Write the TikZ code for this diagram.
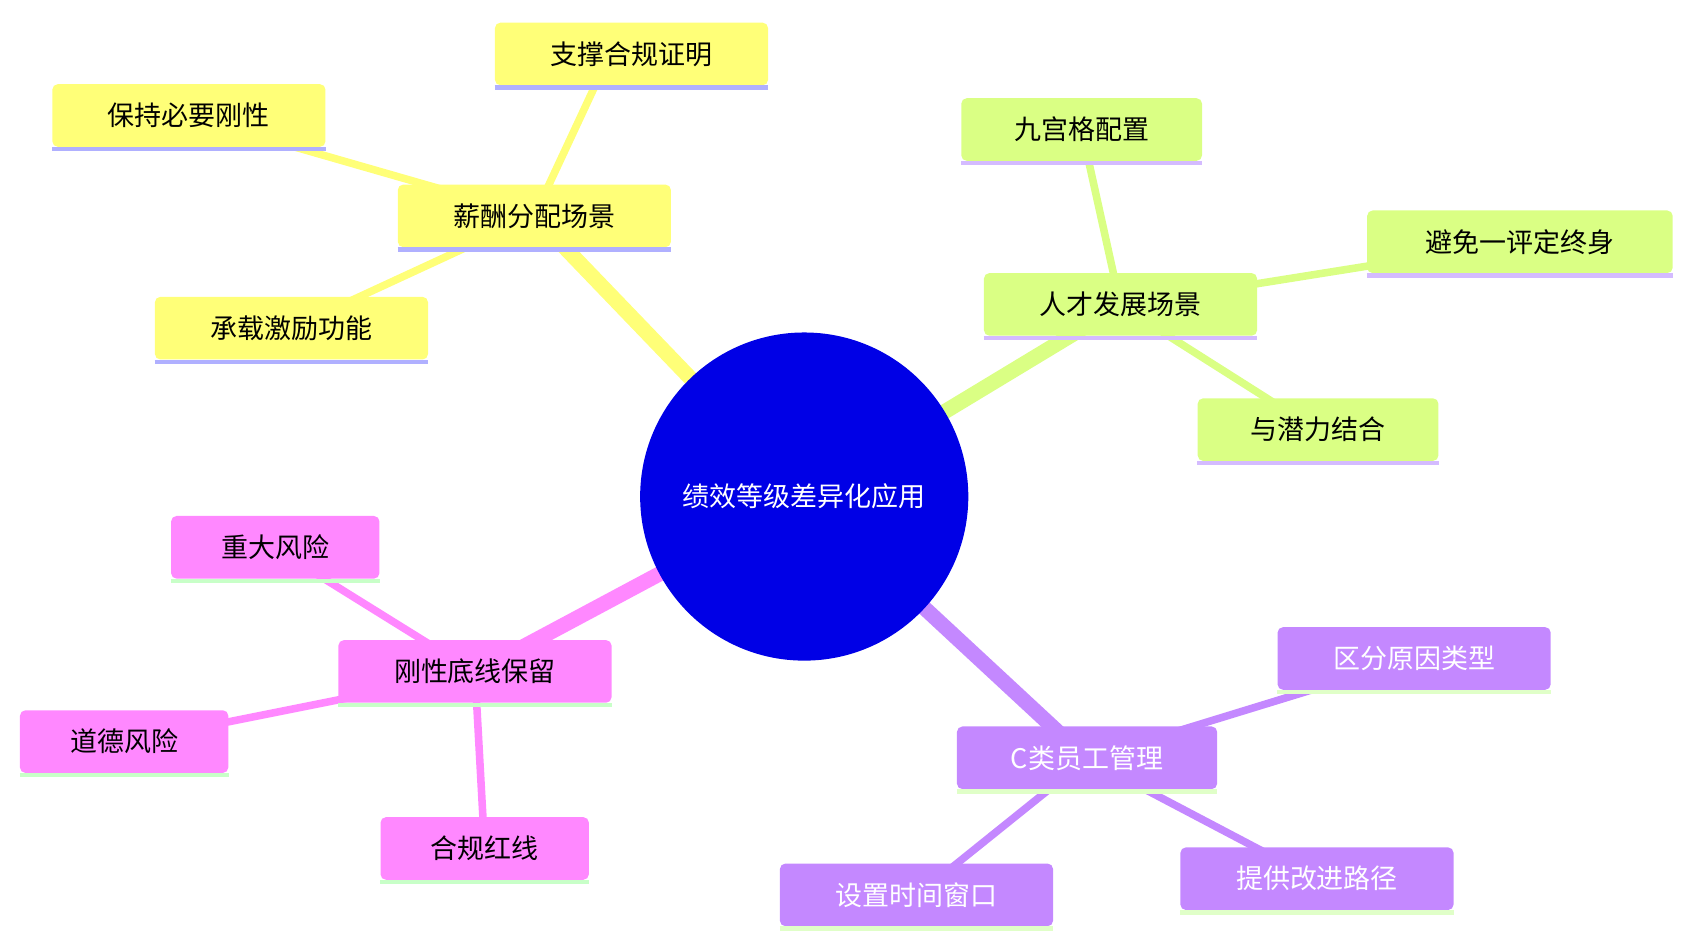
\documentclass[tikz,border=0pt]{standalone}
\usepackage{fontspec}
\setmainfont{Noto Sans CJK SC}
\definecolor{yel}{RGB}{255,255,120}
\definecolor{yelu}{RGB}{176,176,255}
\definecolor{grn}{RGB}{218,255,132}
\definecolor{grnu}{RGB}{212,187,255}
\definecolor{pnk}{RGB}{255,136,255}
\definecolor{pnku}{RGB}{200,255,200}
\definecolor{pur}{RGB}{196,136,255}
\definecolor{puru}{RGB}{224,255,200}
\definecolor{rootc}{RGB}{0,0,230}
\newcommand{\bx}[8]{%
 \node[box,fill=#6,text=#8,minimum width=#4pt] (#1) at ({#2},{874-#3}) {#5};
 \draw[#7,line width=4pt] ([yshift=-2pt]#1.south west) -- ([yshift=-2pt]#1.south east);}
\begin{document}
\begin{tikzpicture}[x=1pt,y=1pt,
 box/.style={rounded corners=5pt,minimum height=58pt,inner sep=0pt,font=\fontsize{25}{28}\selectfont},
 mainl/.style={line width=14pt},
 subl/.style={line width=7pt}]
\useasboundingbox (0,0) rectangle (1560,874);
\coordinate (R) at (745,414);
\coordinate (Ya) at (495,674); \coordinate (Ga) at (1038,591);
\coordinate (Pa) at (440,251); \coordinate (Ua) at (1007,171);
\draw[yel,mainl] (R) -- (Ya);
\draw[grn,mainl] (R) -- (Ga);
\draw[pnk,mainl] (R) -- (Pa);
\draw[pur,mainl] (R) -- (Ua);
\draw[yel,subl] (Ya) -- (565,824);
\draw[yel,subl] (Ya) -- (175,766);
\draw[yel,subl] (Ya) -- (270,570);
\draw[grn,subl] (Ga) -- (1002,754);
\draw[grn,subl] (Ga) -- (1408,650);
\draw[grn,subl] (Ga) -- (1221,475);
\draw[pnk,subl] (Pa) -- (255,366);
\draw[pnk,subl] (Pa) -- (115,186);
\draw[pnk,subl] (Pa) -- (449,87);
\draw[pur,subl] (Ua) -- (1310,264);
\draw[pur,subl] (Ua) -- (1220,59);
\draw[pur,subl] (Ua) -- (849,44);
\node[circle,fill=rootc,minimum size=304pt,inner sep=0pt,text=white,font=\fontsize{25}{28}\selectfont] (root) at (745,414) {绩效等级差异化应用};
\bx{y0}{495}{200}{253}{薪酬分配场景}{yel}{yelu}{black}
\bx{y1}{585}{50}{253}{支撑合规证明}{yel}{yelu}{black}
\bx{y2}{175}{107}{253}{保持必要刚性}{yel}{yelu}{black}
\bx{y3}{270}{304}{253}{承载激励功能}{yel}{yelu}{black}
\bx{g0}{1038}{282}{253}{人才发展场景}{grn}{grnu}{black}
\bx{g1}{1002}{120}{223}{九宫格配置}{grn}{grnu}{black}
\bx{g2}{1408}{224}{283}{避免一评定终身}{grn}{grnu}{black}
\bx{g3}{1221}{398}{223}{与潜力结合}{grn}{grnu}{black}
\bx{p0}{440}{622}{253}{刚性底线保留}{pnk}{pnku}{black}
\bx{p1}{255}{507}{193}{重大风险}{pnk}{pnku}{black}
\bx{p2}{115}{687}{193}{道德风险}{pnk}{pnku}{black}
\bx{p3}{449}{786}{193}{合规红线}{pnk}{pnku}{black}
\bx{u0}{1007}{702}{241}{C类员工管理}{pur}{puru}{white}
\bx{u1}{1310}{610}{253}{区分原因类型}{pur}{puru}{white}
\bx{u2}{1220}{814}{253}{提供改进路径}{pur}{puru}{white}
\bx{u3}{849}{829}{253}{设置时间窗口}{pur}{puru}{white}
\end{tikzpicture}
\end{document}
